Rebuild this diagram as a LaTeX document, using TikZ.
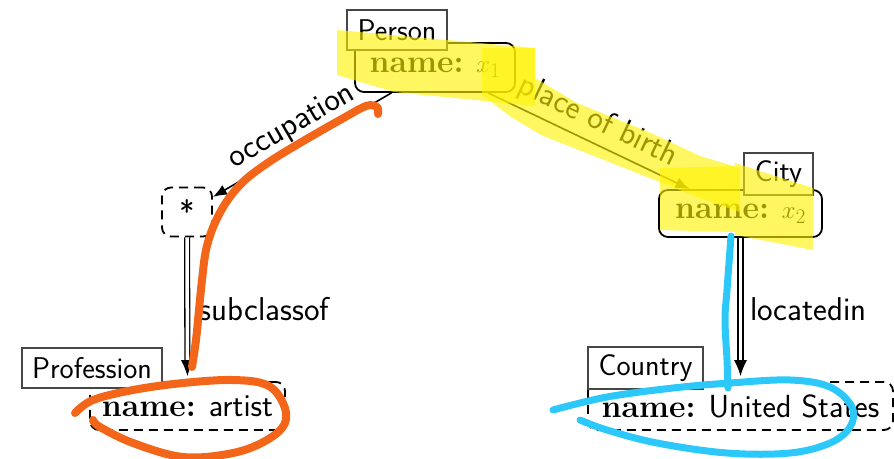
\documentclass[tikz,border=0pt]{standalone}
\usetikzlibrary{arrows.meta}
\definecolor{hlorange}{RGB}{243,101,25}
\definecolor{hlblue}{RGB}{45,200,250}
\definecolor{lblgray}{RGB}{70,70,70}
\begin{document}
\begin{tikzpicture}[x=1pt,y=-1pt,
 namebox/.style={draw, line width=1.8pt, rounded corners=9pt, inner sep=0pt, font=\fontsize{32}{36}\selectfont},
 dashbox/.style={namebox, dash pattern=on 9pt off 6pt},
 typelabel/.style={draw=lblgray, line width=1.3pt, fill=white, inner sep=0pt, minimum height=40pt, font=\sffamily\fontsize{30}{34}\selectfont},
 reledge/.style={line width=1.6pt, -{Latex[length=14pt,width=11pt]}},
 subedge/.style={double, double distance=3.5pt, line width=1.3pt, -{Latex[length=16pt,width=13pt]}, shorten >=5pt},
 edgelabel/.style={font=\sffamily\fontsize{33}{37}\selectfont, inner sep=6pt},
 highlight/.style={fill=yellow, fill opacity=0.62, draw=none},
 orangepen/.style={draw=hlorange, line width=8pt, line cap=round, line join=round},
 bluepen/.style={draw=hlblue, line width=7pt, line cap=round, line join=round}]
\useasboundingbox (0,0) rectangle (894,458);
% name boxes
\node[namebox, minimum width=160pt, minimum height=49pt] (person) at (435,67.5) {\textbf{name:} $x_1$};
\node[namebox, minimum width=163pt, minimum height=47pt] (city) at (740.5,213.5) {\textbf{name:} $x_2$};
\node[dashbox, minimum width=50pt, minimum height=49pt] (star) at (187,212) {\textsf{*}};
\node[dashbox, minimum width=195pt, minimum height=48pt] (prof) at (187.5,406) {\textbf{name:} \textsf{artist}};
\node[dashbox, minimum width=305pt, minimum height=48pt] (country) at (740.5,406) {\textbf{name:} \textsf{United States}};
% type labels
\node[typelabel, minimum width=100pt] (personlbl) at (397,30) {Person};
\node[typelabel, minimum width=69pt, minimum height=42pt] (citylbl) at (778.5,174) {City};
\node[typelabel, minimum width=140pt] (proflbl) at (92,368) {Profession};
\node[typelabel, minimum width=115pt, minimum height=42pt] (countrylbl) at (645.5,368) {Country};
% edges
\draw[reledge] (person) -- node[edgelabel, sloped, above] {occupation} (star);
\draw[reledge] (person) -- node[edgelabel, sloped, above] {place of birth} (city);
\draw[subedge] (star) -- node[edgelabel, right, xshift=6pt] {subclassof} (prof);
\draw[subedge] (city) -- node[edgelabel, right, xshift=3pt] {locatedin} (country);
% highlighter marks
\fill[highlight] (337,30) -- (535,48) -- (535,106) -- (394,92) -- (337,75) -- cycle;
\fill[highlight] (482,48) -- (535,48) -- (535,78) -- (577,103) -- (651,133) -- (700,156) -- (740,168) -- (740,212) -- (700,198) -- (662,183) -- (541,135) -- (511,117) -- (482,95) -- cycle;
\fill[highlight] (660,168) -- (735,166) -- (735,232) -- (660,230) -- cycle;
\fill[highlight] (735,163) -- (813,188) -- (813,250) -- (735,235) -- cycle;
% orange pen
\draw[orangepen] plot[smooth, tension=0.55] coordinates {(378,114) (377,107) (366,106) (340,120) (305,140) (272,160) (245,180) (227,201) (214,225) (206,250) (202,280) (199,310) (196,340) (192,367)};
\draw[orangepen] plot[smooth, tension=0.6] coordinates {(75,413) (93,400) (133,390) (183,383) (233,380) (267,385) (283,403) (285,423) (267,440) (233,453) (183,457) (133,443) (100,427) (93,420)};
% blue pen
\draw[bluepen] plot[smooth, tension=0.6] coordinates {(731,236) (727,290) (725,320) (727,360) (728,388)};
\draw[bluepen] plot[smooth, tension=0.6] coordinates {(553,410) (607,397) (673,388) (730,383) (790,380) (830,387) (852,407) (850,427) (830,443) (790,453) (727,453) (657,443) (607,430) (580,420)};
\end{tikzpicture}
\end{document}
